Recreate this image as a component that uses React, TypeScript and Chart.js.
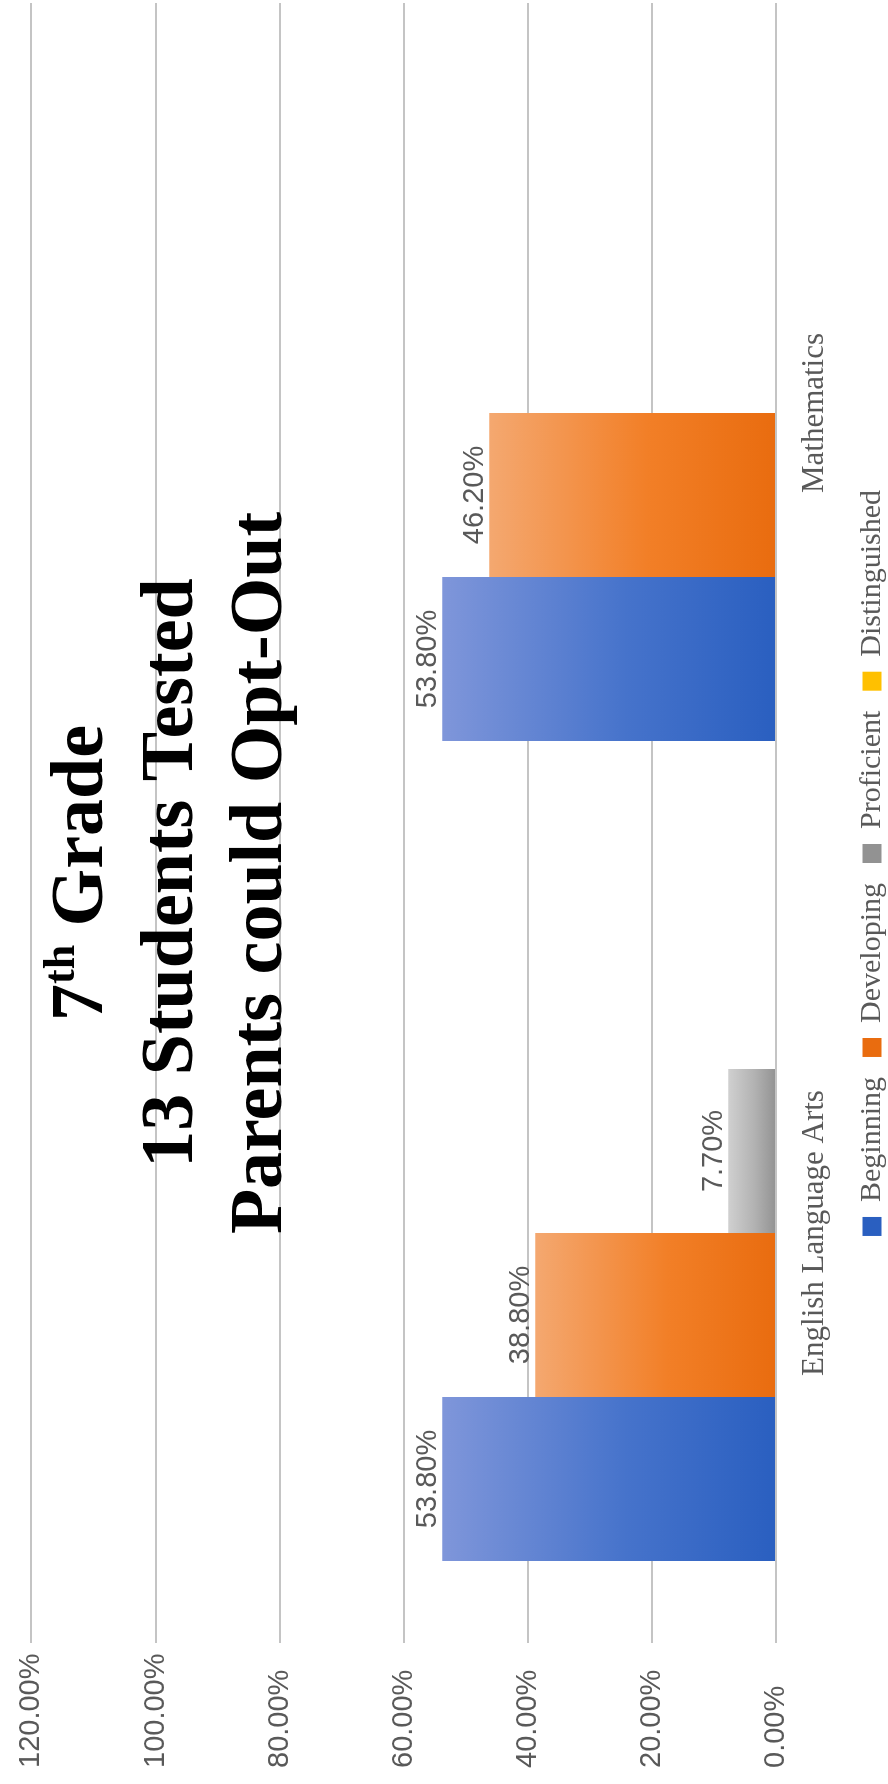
import { useEffect, useRef } from "react";
import { Chart, registerables } from "chart.js";

Chart.register(...registerables);

// ---- data ----
const categories = ["English Language Arts", "Mathematics"];
const seriesNames = ["Beginning", "Developing", "Proficient", "Distinguished"];
const beginning = [0.538, 0.538];
const developing = [0.388, 0.462];
const proficient = [0.077, 0];
const distinguished = [0, 0];
const valueMin = 0;
const valueMax = 1.2;
const valueStep = 0.2;
const titleLine1 = ["7", "th", " Grade"];
const titleLine2 = "13 Students Tested";
const titleLine3 = "Parents could Opt-Out";

// ---- styles ----
const seriesLight = ["#7f96da", "#f4a870", "#d0d0d0", "#ffd966"];
const seriesMid = ["#4673cb", "#f27f27", "#b2b2b2", "#ffc000"];
const seriesDark = ["#2a5fc0", "#e96c0f", "#929292", "#e0a800"];
const legendColors = ["#3e6dc6", "#ee7a2a", "#a8a8a8", "#ffc000"];
const textGray = "#595959";
const serif = '"Liberation Serif", "Times New Roman", serif';
const sans = '"Liberation Sans", Arial, sans-serif';

const W = 1784;
const H = 897;
const PAD_LEFT = 16;
const LEGEND_SHIFT = 45;

const fmtPct = (v: number) => (v * 100).toFixed(2) + "%";

const valueLabelsPlugin = {
  id: "valueLabels",
  afterDatasetsDraw(chart: any) {
    const ctx = chart.ctx;
    ctx.save();
    ctx.font = `29px ${sans}`;
    ctx.fillStyle = textGray;
    ctx.textAlign = "center";
    ctx.textBaseline = "alphabetic";
    chart.data.datasets.forEach((ds: any, di: number) => {
      const meta = chart.getDatasetMeta(di);
      meta.data.forEach((el: any, i: number) => {
        const v = ds.data[i];
        if (!v) return;
        ctx.fillText(fmtPct(v), el.x, el.y - 6);
      });
    });
    ctx.restore();
  },
};

const legendShiftPlugin = {
  id: "legendShift",
  afterLayout(chart: any) {
    const lg = chart.legend;
    if (lg) {
      lg.left += LEGEND_SHIFT;
      lg.width -= LEGEND_SHIFT;
    }
  },
};

const overlayTitlePlugin = {
  id: "overlayTitle",
  afterDraw(chart: any) {
    const ctx = chart.ctx;
    const cx = chart.width / 2 + 19;
    const big = `bold 74px ${serif}`;
    const small = `bold 44px ${serif}`;
    ctx.save();
    ctx.fillStyle = "#000";
    ctx.textBaseline = "alphabetic";
    ctx.textAlign = "left";
    ctx.font = big;
    const w0 = ctx.measureText(titleLine1[0]).width;
    const w2 = ctx.measureText(titleLine1[2]).width;
    ctx.font = small;
    const w1 = ctx.measureText(titleLine1[1]).width;
    let x = cx - (w0 + w1 + w2) / 2;
    const b1 = 102;
    ctx.font = big;
    ctx.fillText(titleLine1[0], x, b1);
    x += w0;
    ctx.font = small;
    ctx.fillText(titleLine1[1], x, b1 - 28);
    x += w1;
    ctx.font = big;
    ctx.fillText(titleLine1[2], x, b1);
    ctx.textAlign = "center";
    ctx.fillText(titleLine2, cx, 192);
    ctx.fillText(titleLine3, cx, 281);
    ctx.restore();
  },
};

function makeBg(i: number) {
  return (c: any) => {
    if (c.type !== "data") return legendColors[i];
    const chart = c.chart;
    const y = chart.scales && chart.scales.y;
    if (!chart.chartArea || !y) return legendColors[i];
    const top = y.getPixelForValue(c.raw);
    const base = y.getPixelForValue(0);
    if (!(base - top > 1)) return legendColors[i];
    const g = chart.ctx.createLinearGradient(0, top, 0, base);
    g.addColorStop(0, seriesLight[i]);
    g.addColorStop(0.55, seriesMid[i]);
    g.addColorStop(1, seriesDark[i]);
    return g;
  };
}

export default function App() {
  const ref = useRef<HTMLCanvasElement>(null);

  useEffect(() => {
    const seriesData = [beginning, developing, proficient, distinguished];
    const chart = new Chart(ref.current as HTMLCanvasElement, {
      type: "bar",
      data: {
        labels: categories,
        datasets: seriesNames.map((name, i) => ({
          label: name,
          data: seriesData[i],
          backgroundColor: makeBg(i) as any,
          borderWidth: 0,
          categoryPercentage: 0.8,
          barPercentage: 1.0,
        })),
      },
      options: {
        responsive: false,
        animation: false,
        layout: { padding: { left: PAD_LEFT, right: 3, top: 27, bottom: 0 } },
        plugins: {
          title: { display: false },
          tooltip: { enabled: false },
          legend: {
            position: "bottom",
            labels: {
              boxWidth: 19,
              boxHeight: 19,
              padding: 20,
              color: textGray,
              font: { family: serif, size: 30 },
            },
          },
        },
        scales: {
          x: {
            type: "category",
            offset: true,
            grid: { display: false },
            border: { display: false },
            ticks: {
              color: textGray,
              font: { family: serif, size: 31 },
              padding: 12,
              maxRotation: 0,
              autoSkip: false,
            },
            afterFit: (s: any) => {
              s.height = 61;
            },
          },
          y: {
            min: valueMin,
            max: valueMax,
            border: { display: false },
            grid: { color: "#c4c4c4", lineWidth: 2, drawTicks: false },
            ticks: {
              stepSize: valueStep,
              color: textGray,
              font: { family: sans, size: 29 },
              padding: 14,
              crossAlign: "far",
              callback: (v: any) => fmtPct(Number(v)),
            },
            afterFit: (s: any) => {
              s.width = 141 - PAD_LEFT;
            },
          },
        },
      },
      plugins: [valueLabelsPlugin, legendShiftPlugin, overlayTitlePlugin],
    });
    return () => chart.destroy();
  }, []);

  return (
    <div
      style={{
        position: "absolute",
        left: 0,
        top: 0,
        width: 888,
        height: 1784,
        overflow: "hidden",
        background: "#fff",
      }}
    >
      <div
        style={{
          position: "absolute",
          left: 0,
          top: 0,
          width: W,
          height: H,
          transformOrigin: "0 0",
          transform: `translateY(${W}px) rotate(-90deg)`,
        }}
      >
        <canvas ref={ref} width={W} height={H} style={{ display: "block", width: W, height: H }} />
      </div>
    </div>
  );
}
